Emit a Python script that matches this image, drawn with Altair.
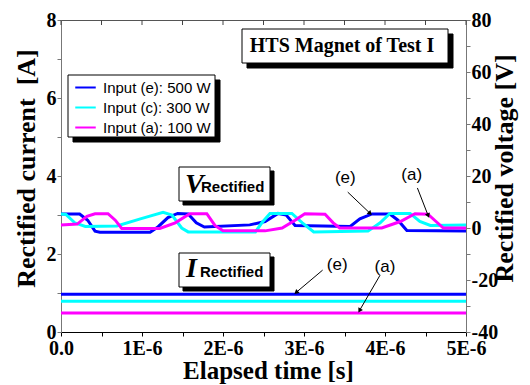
import altair as alt
import pandas as pd

# ---------------- data (time in microseconds) ----------------
series_names = ["Input (e): 500 W", "Input (c): 300 W", "Input (a): 100 W"]
series_colors = ["#0000ff", "#00ffff", "#ff00ff"]
time_ticks = [0, 0.5, 1, 1.5, 2, 2.5, 3, 3.5, 4, 4.5, 5]
current_ticks = [0, 1, 2, 3, 4, 5, 6, 7, 8]
voltage_ticks = [-40, -30, -20, -10, 0, 10, 20, 30, 40, 50, 60, 70, 80]

# Rectified voltage [V]
v_e_t = [0.00, 0.23, 0.33, 0.42, 0.48, 1.10, 1.20, 1.32, 1.44, 1.57, 1.67, 1.77, 2.33, 2.52, 2.68, 2.78, 2.89, 3.57, 3.69, 3.84, 4.06, 4.16, 4.27, 5.00]
v_e = [5.4, 5.4, 3.0, -1.2, -1.6, -1.6, 0.5, 4.0, 5.6, 5.4, 2.0, 0.4, 1.2, 2.5, 5.6, 5.0, 1.0, 0.6, 3.5, 5.4, 5.4, 3.0, -1.0, -1.2]

v_c_t = [0.00, 0.06, 0.17, 0.30, 0.69, 0.98, 1.26, 1.37, 1.49, 1.57, 2.40, 2.48, 2.58, 2.85, 2.98, 3.12, 3.79, 3.94, 4.06, 4.31, 4.43, 4.56, 5.00]
v_c = [5.4, 5.2, 2.0, 0.6, 0.8, 3.5, 6.0, 5.0, 0.0, -1.5, -1.5, 2.0, 5.6, 5.6, 2.0, -1.5, -1.2, 2.0, 5.6, 5.6, 2.5, 1.0, 1.2]

v_a_t = [0.00, 0.20, 0.32, 0.42, 0.58, 0.67, 0.75, 1.22, 1.41, 1.59, 1.80, 1.90, 2.00, 2.52, 2.73, 2.89, 3.01, 3.26, 3.36, 3.44, 3.96, 4.19, 4.37, 4.53, 4.63, 4.72, 5.00]
v_a = [1.2, 1.5, 4.5, 5.5, 5.5, 3.0, -0.2, -0.2, 2.0, 5.5, 5.5, 1.0, -1.1, -1.1, 0.0, 3.0, 5.5, 5.3, 2.0, 0.0, 0.0, 2.5, 5.5, 5.3, 2.5, 0.0, 0.0]

# Rectified current [A]
i_t = [0.0, 5.0]
i_e = [0.97, 0.97]
i_c = [0.79, 0.79]
i_a = [0.49, 0.49]

# annotations (time, voltage)
ann_label = ["(e)", "(a)", "(e)", "(a)"]
ann_text_t = [3.51, 4.33, 3.41, 4.00]
ann_text_v = [19.2, 20.4, -14.2, -15.0]
arrow_t0 = [3.54, 4.40, 3.23, 3.94]
arrow_v0 = [13.8, 15.4, -16.2, -18.1]
arrow_t1 = [3.81, 4.53, 2.91, 3.69]
arrow_v1 = [5.8, 5.0, -24.6, -31.5]
arrow_angle = [134, 158, 230, 210]

# ---------------- tables ----------------
v_df = pd.concat([
    pd.DataFrame({"t": v_e_t, "v": v_e, "s": series_names[0], "o": 2}),
    pd.DataFrame({"t": v_c_t, "v": v_c, "s": series_names[1], "o": 1}),
    pd.DataFrame({"t": v_a_t, "v": v_a, "s": series_names[2], "o": 0}),
])
i_df = pd.concat([
    pd.DataFrame({"t": i_t, "i": i_e, "s": series_names[0]}),
    pd.DataFrame({"t": i_t, "i": i_c, "s": series_names[1]}),
    pd.DataFrame({"t": i_t, "i": i_a, "s": series_names[2]}),
])
ann_df = pd.DataFrame({"label": ann_label, "t": ann_text_t, "v": ann_text_v})
arr_df = pd.DataFrame({"t0": arrow_t0, "v0": arrow_v0, "t1": arrow_t1, "v1": arrow_v1, "ang": arrow_angle})
tick_df = pd.DataFrame({"t": time_ticks})

SERIF = "Liberation Serif"
SANS = "Liberation Sans"

xs = alt.Scale(domain=[0, 5], nice=False)
ys_i = alt.Scale(domain=[0, 8], nice=False)
ys_v = alt.Scale(domain=[-40, 80], nice=False)
color = alt.Color("s:N", scale=alt.Scale(domain=series_names, range=series_colors),
                  legend=alt.Legend(title=None, orient="none", legendX=13, legendY=56,
                                    padding=0, symbolType="stroke", symbolSize=420,
                                    symbolStrokeWidth=2, labelFont=SANS, labelFontSize=15,
                                    labelColor="black", labelOffset=6, rowPadding=0))

x_bottom = alt.Axis(values=time_ticks, labelFlush=False,
                    labelExpr="datum.value % 1 != 0 ? '' : (datum.value == 0 ? '0.0' : datum.value + 'E-6')",
                    title="Elapsed time [s]", grid=False, tickSize=4, labelPadding=2,
                    titleBaseline="alphabetic", titleY=46, titleX=207, titleFontSize=25,
                    domainColor="black", tickColor="black")
y_left = alt.Axis(values=current_ticks, labelFlush=False,
                  labelExpr="datum.value % 2 == 0 ? datum.value : ''",
                  title="Rectified current\u00a0 [A]", grid=False, tickSize=4, labelPadding=1,
                  titleBaseline="alphabetic", titleX=-27, titleY=148, titleAngle=270,
                  domainColor="#777", tickColor="#777")
y_right = alt.Axis(orient="right", values=voltage_ticks, labelFlush=False,
                   labelExpr="datum.value % 20 == 0 ? datum.value : ''",
                   title="Rectified voltage [V]", titleAngle=270, titleBaseline="alphabetic",
                   titleX=46, titleY=148, grid=False, tickSize=4,
                   labelPadding=1, domainColor="#777", tickColor="#777")


def X(field):
    return alt.X(field, type="quantitative", scale=xs, axis=x_bottom)


cur = alt.Chart(i_df).mark_line(strokeWidth=3).encode(
    x=X("t"),
    y=alt.Y("i:Q", scale=ys_i, axis=y_left),
    color=color,
)
top_ticks = alt.Chart(tick_df).mark_rule(color="#444", strokeWidth=1).encode(
    x=X("t"),
    y=alt.value(0), y2=alt.value(5),
)
volt = alt.Chart(v_df).mark_line(strokeWidth=3).encode(
    x=X("t"),
    y=alt.Y("v:Q", scale=ys_v, axis=y_right),
    color=color,
    order=alt.Order("o:Q"),
)
ann_text = alt.Chart(ann_df).mark_text(font=SANS, fontSize=17, color="black", baseline="middle").encode(
    x=X("t"),
    y=alt.Y("v:Q", scale=ys_v, axis=None),
    text="label:N",
)
arrows = alt.Chart(arr_df).mark_rule(color="black", strokeWidth=1).encode(
    x=X("t0"), x2="t1:Q",
    y=alt.Y("v0:Q", scale=ys_v, axis=None), y2="v1:Q",
)
heads = alt.Chart(arr_df).mark_point(shape="triangle", filled=True, color="black", size=28, opacity=1).encode(
    x=X("t1"),
    y=alt.Y("v1:Q", scale=ys_v, axis=None),
    angle=alt.Angle("ang:Q", scale=None),
)

# decorative boxes (pixel positions inside the plot area)
boxes = pd.DataFrame({
    "x": [186, 181, 12, 7, 122, 118, 122, 118],
    "x2": [392, 387, 159, 154, 213, 209, 213, 209],
    "y": [14, 9, 60, 55, 151, 147, 237, 233],
    "y2": [48, 43, 122, 117, 185, 181, 271, 267],
    "fill": ["black", "white", "black", "white", "black", "white", "black", "white"],
})
box_layer = alt.Chart(boxes).mark_rect(stroke="black", strokeWidth=1).encode(
    x=alt.X("x:Q", scale=None), x2="x2:Q",
    y=alt.Y("y:Q", scale=None), y2="y2:Q",
    fill=alt.Fill("fill:N", scale=None),
)
labels = pd.DataFrame({
    "x": [281, 124, 140, 125, 139],
    "y": [32, 173, 172, 257, 257],
    "txt": ["HTS Magnet of Test I", "V", "Rectified", "I", "Rectified"],
})
def lbl(i, **kw):
    return alt.Chart(labels.iloc[[i]]).mark_text(baseline="alphabetic", color="black", **kw).encode(
        x=alt.X("x:Q", scale=None), y=alt.Y("y:Q", scale=None), text="txt:N")

hts = lbl(0, font=SERIF, fontSize=20, fontWeight="bold", align="center")
vsym = lbl(1, font=SERIF, fontSize=28, fontStyle="italic", fontWeight="bold", align="left")
vsub = lbl(2, font=SANS, fontSize=15, fontWeight="bold", align="left")
isym = lbl(3, font=SERIF, fontSize=28, fontStyle="italic", fontWeight="bold", align="left")
isub = lbl(4, font=SANS, fontSize=15, fontWeight="bold", align="left")

chart = alt.layer(
    top_ticks, cur, volt, arrows, heads, ann_text, box_layer, hts, vsym, vsub, isym, isub
).resolve_scale(y="independent").properties(
    width=405, height=312,
    autosize=alt.AutoSizeParams(type="none"),
    padding={"left": 53, "top": 12, "right": 56, "bottom": 52},
).configure_axis(
    labelFont=SERIF, labelFontSize=20, labelFontWeight="bold", labelColor="black",
    titleFont=SERIF, titleFontSize=26, titleFontWeight="bold", titleColor="black",
).configure_view(stroke="#555", strokeWidth=1)

chart.save("out.html", embed_options={"renderer": "svg", "actions": False})
